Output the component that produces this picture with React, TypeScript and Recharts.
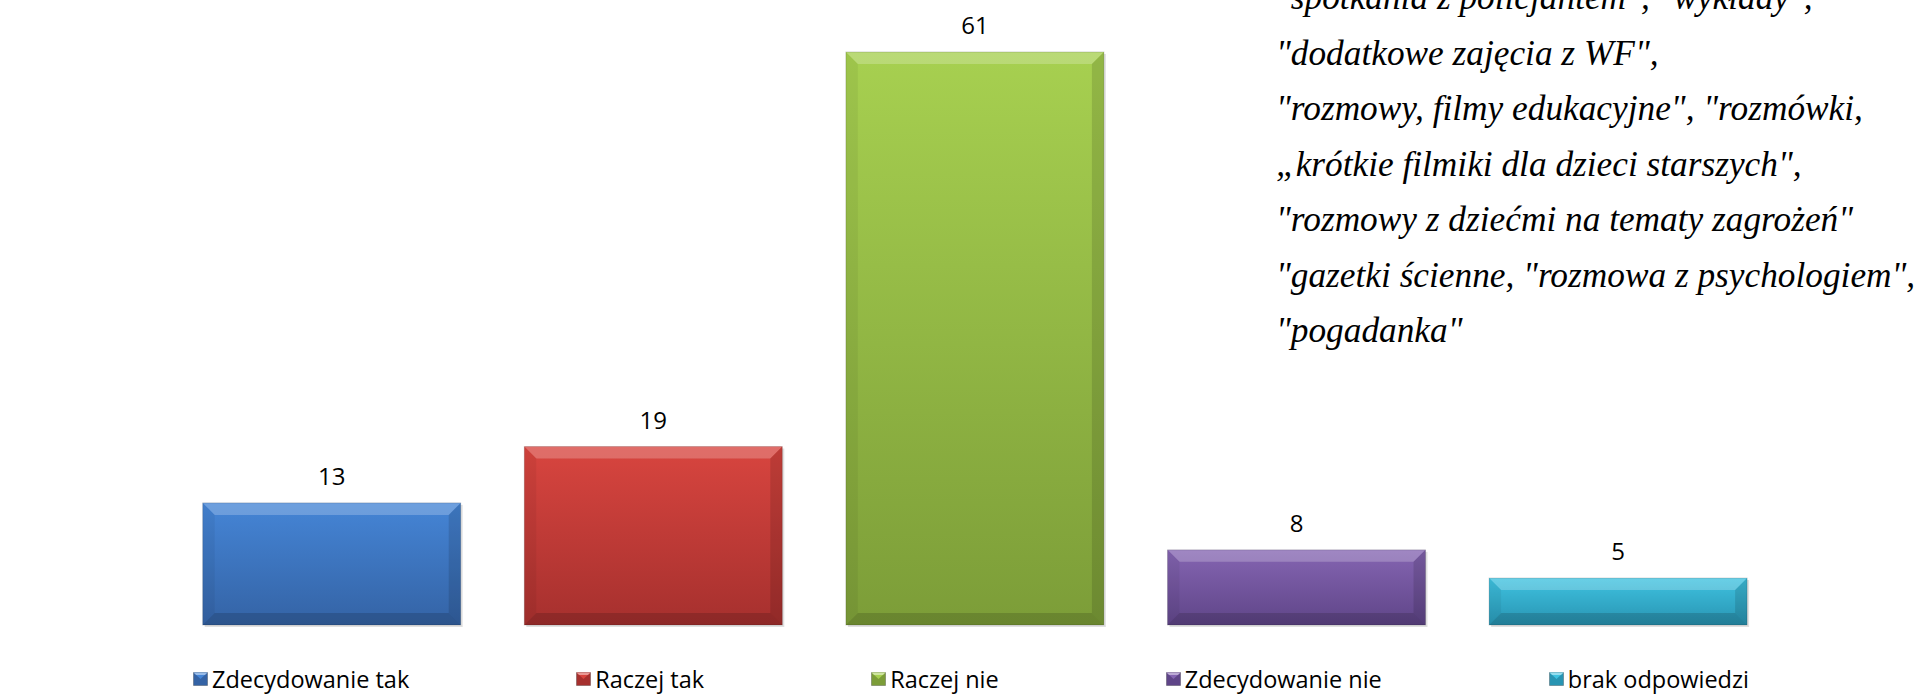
import { BarChart, Bar, XAxis, YAxis, Legend, LabelList } from 'recharts';

const category = [''];
const seriesKeys = ['zt', 'rt', 'rn', 'zn', 'bo'];
const seriesNames = ['Zdecydowanie tak', 'Raczej tak', 'Raczej nie', 'Zdecydowanie nie', 'brak odpowiedzi'];
const seriesValues = [13, 19, 61, 8, 5];

const TOP_COLORS = ['#4585d6', '#d8453f', '#a7d050', '#8565b2', '#3fc2e0'];
const BOTTOM_COLORS = ['#3463a5', '#a6302e', '#7c9d38', '#5f4588', '#2894b2'];

const noteLines = [
  '"spotkania z policjantem", "wykłady",',
  '"dodatkowe zajęcia z WF",',
  '"rozmowy, filmy edukacyjne", "rozmówki,',
  '„krótkie filmiki dla dzieci starszych",',
  '"rozmowy z dziećmi na tematy zagrożeń"',
  '"gazetki ścienne, "rozmowa z psychologiem",',
  '"pogadanka"',
];

const data = category.map((name) => {
  const row: Record<string, any> = { name };
  seriesKeys.forEach((k, i) => {
    row[k] = seriesValues[i];
  });
  return row;
});

const FONT = '"Open Sans", Lato, sans-serif';

// bar with an Excel-like bevel
function BevelBar(props: any) {
  const { x, y, width, height, gid } = props;
  if (!width || !height) return null;
  const b = Math.min(12, height / 2, width / 2);
  const x2 = x + width;
  const y2 = y + height;
  return (
    <g>
      <rect x={x + 2} y={y + 2} width={width} height={height} fill="rgba(0,0,0,0.12)" />
      <rect x={x} y={y} width={width} height={height} fill={`url(#${gid})`} />
      <polygon
        points={`${x},${y} ${x2},${y} ${x2 - b},${y + b} ${x + b},${y + b}`}
        fill="rgba(255,255,255,0.22)"
      />
      <polygon
        points={`${x},${y} ${x + b},${y + b} ${x + b},${y2 - b} ${x},${y2}`}
        fill="rgba(0,0,0,0.05)"
      />
      <polygon
        points={`${x2},${y} ${x2},${y2} ${x2 - b},${y2 - b} ${x2 - b},${y + b}`}
        fill="rgba(0,0,0,0.12)"
      />
      <polygon
        points={`${x},${y2} ${x + b},${y2 - b} ${x2 - b},${y2 - b} ${x2},${y2}`}
        fill="rgba(0,0,0,0.15)"
      />
      <rect x={x} y={y} width={width} height={height} fill="none" stroke="rgba(0,0,0,0.15)" strokeWidth={1} />
    </g>
  );
}

function LegendIcon({ index }: { index: number }) {
  return (
    <svg width={15} height={14} style={{ marginRight: 4, flex: 'none' }}>
      <rect x={0.5} y={0.5} width={14} height={13} fill={BOTTOM_COLORS[index]} stroke="rgba(0,0,0,0.25)" />
      <polygon points="0.5,0.5 14.5,0.5 7.5,7" fill={TOP_COLORS[index]} />
      <polygon points="0.5,0.5 14.5,0.5 12,3 3,3" fill="rgba(255,255,255,0.45)" />
    </svg>
  );
}

const renderLegend = () => (
  <div
    style={{
      height: 69,
      display: 'flex',
      alignItems: 'flex-start',
      paddingLeft: 183,
      paddingTop: 39,
      boxSizing: 'border-box',
      gap: 167,
      fontFamily: FONT,
      fontSize: 23.5,
      color: '#000',
      whiteSpace: 'nowrap',
    }}
  >
    {seriesNames.map((name, i) => (
      <div key={`legend-${i}`} style={{ display: 'flex', alignItems: 'center', lineHeight: '30px' }}>
        <LegendIcon index={i} />
        <span>{name}</span>
      </div>
    ))}
  </div>
);

export default function App() {
  return (
    <div
      style={{
        position: 'fixed',
        left: 0,
        top: 0,
        width: 1923,
        height: 694,
        overflow: 'hidden',
        background: '#fff',
      }}
    >
      <BarChart
        width={1942}
        height={694}
        data={data}
        margin={{ top: 5, right: 0, left: 10, bottom: 0 }}
        barCategoryGap={192.7}
        barGap={63.6}
      >
        <defs>
          {seriesKeys.map((k, i) => (
            <linearGradient key={k} id={`grad-${k}`} x1="0" y1="0" x2="0" y2="1">
              <stop offset="0%" stopColor={TOP_COLORS[i]} />
              <stop offset="100%" stopColor={BOTTOM_COLORS[i]} />
            </linearGradient>
          ))}
        </defs>
        <XAxis dataKey="name" tick={false} tickLine={false} height={0} axisLine={{ stroke: '#8c8c8c', strokeWidth: 1.5 }} />
        <YAxis hide domain={[0, 66]} />
        <Legend verticalAlign="bottom" content={renderLegend} wrapperStyle={{ height: 69 }} />
        {seriesKeys.map((k, i) => (
          <Bar
            key={k}
            dataKey={k}
            name={seriesNames[i]}
            fill={TOP_COLORS[i]}
            isAnimationActive={false}
            shape={(p: any) => <BevelBar {...p} gid={`grad-${k}`} />}
          >
            <LabelList dataKey={k} position="top" offset={18} fill="#000" fontSize={24} fontFamily={FONT} />
          </Bar>
        ))}
      </BarChart>
      <div
        style={{
          position: 'absolute',
          left: 1276,
          top: -30,
          fontFamily: '"Liberation Serif", serif',
          fontStyle: 'italic',
          fontSize: 35.3,
          lineHeight: '55.5px',
          color: '#000',
          whiteSpace: 'nowrap',
        }}
      >
        {noteLines.map((line, i) => (
          <div key={i}>{line}</div>
        ))}
      </div>
    </div>
  );
}
